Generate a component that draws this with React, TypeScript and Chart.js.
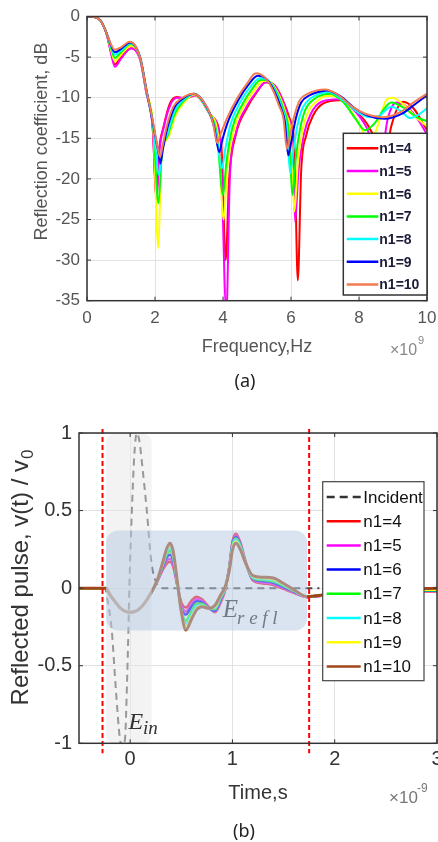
import React, { useEffect, useRef } from "react";
import { Chart, registerables } from "chart.js";
Chart.register(...registerables);

const SANS = '"Liberation Sans", Arial, Helvetica, sans-serif';
const SERIF = '"Liberation Serif", "DejaVu Serif", serif';

// ---------------- (a) Reflection coefficient vs frequency (GHz, dB) ----------------
const freqTicks = [0, 2, 4, 6, 8, 10];
const dbTicks = [0, -5, -10, -15, -20, -25, -30, -35];
const labelsA = ["n1=4", "n1=5", "n1=6", "n1=7", "n1=8", "n1=9", "n1=10"];
const colorsA = ["#ff0000", "#ff00ff", "#ffff00", "#00ff00", "#00ffff", "#0000ff", "#f27b50"];

const fN4 = [0, 0.2, 0.4, 0.58, 0.7, 0.82, 1.0, 1.3, 1.56, 1.74, 1.93, 2.04, 2.12, 2.25, 2.44, 2.64, 2.88, 3.18, 3.67, 3.95, 4.08, 4.18, 4.38, 4.7, 5.0, 5.25, 5.5, 5.75, 5.97, 6.1, 6.2, 6.3, 6.45, 6.65, 6.95, 7.45, 7.85, 8.25, 8.5, 8.7, 8.95, 9.3, 9.6, 10];
const dbN4 = [0, -0.05, -0.5, -2.2, -4.3, -5.9, -5.0, -3.9, -5.2, -9.2, -13.5, -22.3, -16.5, -13.6, -10.7, -9.9, -10.1, -9.7, -12.3, -15.8, -30, -20, -14.5, -11.3, -9.3, -8.1, -8.4, -10.2, -12.7, -16, -32.5, -19, -14.6, -12.2, -10.7, -10.3, -11.5, -13.3, -15.5, -19, -13.5, -10.5, -11.3, -14];

const fN5 = [0, 0.2, 0.4, 0.58, 0.7, 0.82, 1.0, 1.3, 1.56, 1.74, 1.93, 2.05, 2.12, 2.25, 2.45, 2.64, 2.88, 3.18, 3.65, 3.92, 4.1, 4.2, 4.38, 4.68, 5.0, 5.25, 5.47, 5.72, 5.92, 6.05, 6.12, 6.22, 6.38, 6.58, 6.9, 7.4, 7.8, 8.2, 8.45, 8.65, 8.85, 9.1, 9.4, 9.7, 10];
const dbN5 = [0, -0.05, -0.5, -2.2, -4.4, -6.2, -5.2, -3.9, -5.3, -9.3, -13.6, -22.5, -17, -13.8, -10.9, -10.0, -10.1, -9.7, -12.2, -15.5, -36.5, -20, -14.3, -11.2, -9.2, -8.1, -8.3, -10, -12.5, -15.5, -25.3, -19, -14.5, -12, -10.5, -10.2, -11.3, -13.5, -16, -17, -12.5, -10.6, -11.1, -12.5, -14.5];

const fN6 = [0, 0.2, 0.4, 0.58, 0.7, 0.82, 1.0, 1.3, 1.56, 1.75, 1.95, 2.1, 2.18, 2.4, 2.6, 2.85, 3.15, 3.6, 3.86, 4.02, 4.12, 4.32, 4.62, 4.92, 5.18, 5.4, 5.65, 5.85, 6.0, 6.1, 6.2, 6.33, 6.5, 6.8, 7.05, 7.25, 7.65, 8.0, 8.3, 8.55, 8.8, 8.97, 9.3, 9.7, 10];
const dbN6 = [0, -0.05, -0.5, -2.1, -4.0, -5.5, -4.7, -3.6, -5.1, -9.3, -13.8, -28.5, -18, -14.8, -12.2, -10.6, -9.6, -11.9, -14.8, -25, -19, -14, -11, -9.1, -7.9, -8.1, -9.7, -12, -14.8, -24, -18, -14.2, -11.8, -10.3, -9.8, -9.8, -11, -13.2, -15.5, -13.5, -10.3, -10.0, -10.8, -12.5, -13.5];

const fN7 = [0, 0.2, 0.4, 0.58, 0.7, 0.82, 1.0, 1.28, 1.56, 1.75, 1.95, 2.1, 2.2, 2.38, 2.58, 2.82, 3.15, 3.57, 3.82, 4.0, 4.1, 4.27, 4.56, 4.86, 5.12, 5.35, 5.6, 5.8, 5.93, 6.05, 6.14, 6.27, 6.42, 6.7, 6.95, 7.15, 7.55, 7.9, 8.18, 8.45, 8.7, 8.95, 9.3, 9.7, 10];
const dbN7 = [0, -0.05, -0.5, -2.1, -3.8, -5.1, -4.4, -3.4, -5.0, -9.2, -13.6, -23, -17, -14.6, -12, -10.5, -9.5, -11.7, -14.5, -22, -18, -13.8, -10.9, -8.9, -7.8, -8.0, -9.5, -11.7, -14, -22, -17.5, -13.8, -11.5, -10.1, -9.6, -9.5, -10.6, -12.6, -14.0, -13.2, -11.6, -10.6, -11.2, -12.4, -12.9];

const fN8 = [0, 0.2, 0.4, 0.58, 0.7, 0.82, 1.0, 1.27, 1.56, 1.75, 1.95, 2.12, 2.22, 2.36, 2.56, 2.8, 3.15, 3.55, 3.78, 3.97, 4.06, 4.22, 4.5, 4.8, 5.08, 5.3, 5.55, 5.75, 5.87, 5.98, 6.07, 6.2, 6.35, 6.6, 6.85, 7.1, 7.5, 7.9, 8.3, 8.6, 8.95, 9.25, 9.5, 9.75, 10];
const dbN8 = [0, -0.05, -0.5, -2.1, -3.6, -4.7, -4.2, -3.3, -5.0, -9.2, -13.6, -19.5, -16, -14.5, -11.8, -10.4, -9.5, -11.5, -14, -18.7, -16.5, -13.3, -10.6, -8.7, -7.6, -7.8, -9.3, -11.5, -13.5, -19.3, -16.5, -13.2, -11.2, -10.0, -9.5, -9.3, -10.2, -11.6, -12.4, -12.2, -11.1, -11.7, -12.5, -12.1, -11.3];

const fN9 = [0, 0.2, 0.4, 0.58, 0.7, 0.82, 1.0, 1.27, 1.56, 1.76, 1.96, 2.1, 2.16, 2.23, 2.36, 2.56, 2.76, 3.14, 3.54, 3.74, 3.89, 3.98, 4.16, 4.45, 4.75, 5.02, 5.25, 5.5, 5.7, 5.82, 5.92, 6.01, 6.14, 6.3, 6.55, 6.8, 7.05, 7.45, 7.85, 8.25, 8.75, 9.25, 9.65, 10];
const dbN9 = [0, -0.05, -0.5, -2.1, -3.5, -4.4, -4.0, -3.2, -5.0, -9.3, -13.6, -16.8, -18.1, -16.4, -13.8, -11.3, -10.3, -9.5, -11.3, -13.6, -16.7, -15.2, -12.8, -10.3, -8.4, -7.3, -7.6, -9.1, -11.2, -13, -17.1, -15.4, -12.6, -10.6, -9.7, -9.3, -9.1, -9.8, -11.2, -12.2, -12.6, -12.0, -10.8, -9.7];

const fN10 = [0, 0.2, 0.4, 0.58, 0.7, 0.82, 1.0, 1.26, 1.56, 1.75, 1.95, 2.08, 2.15, 2.22, 2.34, 2.54, 2.74, 3.13, 3.52, 3.71, 3.83, 3.92, 4.11, 4.4, 4.7, 4.97, 5.2, 5.45, 5.65, 5.78, 5.88, 5.97, 6.1, 6.26, 6.5, 6.76, 7.0, 7.4, 7.8, 8.2, 8.7, 9.2, 9.6, 10];
const dbN10 = [0, -0.05, -0.5, -2.1, -3.4, -4.1, -3.8, -3.1, -5.0, -9.1, -13.2, -16.2, -17.3, -16, -13.6, -11.1, -10.2, -9.5, -11.1, -13.2, -15.6, -14.6, -12.6, -10.2, -8.3, -7.0, -7.4, -8.9, -11, -12.6, -16.3, -14.6, -12.2, -10.3, -9.5, -9.1, -9.0, -9.7, -11.1, -12.0, -12.4, -11.8, -10.6, -9.5];

// ---------------- (b) Reflected pulse vs time (ns, v/v0) ----------------
const timeTicks = [0, 1, 2, 3];
const pulseTicks = [-1, -0.5, 0, 0.5, 1];
const markerTimes = [-0.27, 1.75];

const incidentT = [-0.5, -0.24, -0.22, -0.18, -0.14, -0.1, -0.075, -0.05, -0.03, -0.017, -0.008, 0.017, 0.04, 0.065, 0.09, 0.12, 0.163, 0.205, 0.24, 0.27, 0.32, 1.85];
const incidentV = [0, 0, -0.08, -0.27, -0.65, -0.97, -1.02, -0.97, -0.6, -0.27, 0, 0.5, 0.85, 1.0, 0.95, 0.78, 0.5, 0.18, 0.06, 0.02, 0, 0];

const labelsB = ["n1=4", "n1=5", "n1=6", "n1=7", "n1=8", "n1=9", "n1=10"];
const colorsB = ["#ff0000", "#ff00ff", "#0000ff", "#00ff00", "#00ffff", "#ffff00", "#a0441a"];

const headT = [-0.5, -0.27, -0.235, -0.2, -0.15, -0.1, -0.05, 0.0, 0.05, 0.1, 0.15, 0.2, 0.23];
const headV = [0, 0, 0, -0.04, -0.085, -0.125, -0.148, -0.155, -0.15, -0.128, -0.088, -0.035, 0.0];
const tailT = [0.27, 0.32, 0.36, 0.39, 0.42, 0.46, 0.5, 0.545, 0.6, 0.65, 0.7, 0.77, 0.83, 0.88, 0.93, 0.97, 1.0, 1.035, 1.08, 1.13, 1.2, 1.3, 1.4, 1.5, 1.6, 1.73, 1.8, 1.95, 2.5, 3.0];
const tailN4 = [0.05, 0.12, 0.16, 0.17, 0.14, 0.02, -0.09, -0.125, -0.08, -0.055, -0.07, -0.12, -0.155, -0.10, -0.01, 0.14, 0.30, 0.35, 0.29, 0.17, 0.05, 0.03, 0.02, -0.005, -0.03, -0.058, -0.052, -0.045, -0.02, -0.02];
const tailN5 = [0.05, 0.13, 0.18, 0.19, 0.16, 0.025, -0.11, -0.15, -0.1, -0.07, -0.08, -0.125, -0.15, -0.09, -0.005, 0.14, 0.29, 0.34, 0.28, 0.165, 0.055, 0.037, 0.027, 0.0, -0.027, -0.057, -0.052, -0.045, -0.02, -0.018];
const tailN6 = [0.055, 0.14, 0.20, 0.215, 0.18, 0.03, -0.13, -0.17, -0.12, -0.085, -0.09, -0.13, -0.145, -0.08, 0.0, 0.135, 0.285, 0.33, 0.275, 0.16, 0.06, 0.045, 0.035, 0.007, -0.022, -0.056, -0.051, -0.044, -0.018, -0.016];
const tailN7 = [0.055, 0.15, 0.22, 0.24, 0.20, 0.035, -0.14, -0.21, -0.15, -0.1, -0.1, -0.13, -0.135, -0.07, 0.0, 0.13, 0.275, 0.32, 0.27, 0.16, 0.065, 0.052, 0.042, 0.015, -0.018, -0.056, -0.051, -0.044, -0.017, -0.014];
const tailN8 = [0.06, 0.16, 0.235, 0.26, 0.215, 0.04, -0.145, -0.23, -0.17, -0.115, -0.11, -0.13, -0.125, -0.06, 0.005, 0.125, 0.265, 0.31, 0.26, 0.16, 0.07, 0.058, 0.05, 0.02, -0.014, -0.055, -0.05, -0.043, -0.016, -0.012];
const tailN9 = [0.06, 0.165, 0.25, 0.275, 0.23, 0.045, -0.15, -0.25, -0.185, -0.13, -0.115, -0.13, -0.12, -0.055, 0.005, 0.12, 0.255, 0.30, 0.25, 0.16, 0.075, 0.064, 0.057, 0.025, -0.012, -0.055, -0.05, -0.042, -0.015, -0.01];
const tailN10 = [0.06, 0.17, 0.26, 0.29, 0.24, 0.05, -0.15, -0.27, -0.2, -0.14, -0.12, -0.13, -0.11, -0.05, 0.01, 0.115, 0.245, 0.29, 0.245, 0.16, 0.08, 0.07, 0.065, 0.03, -0.01, -0.055, -0.05, -0.04, -0.01, 0.0];

// shaded regions (data coords)
const inWindow = [-0.235, 0.21];
const reflWindowT = [-0.235, 1.73];
const reflWindowV = [-0.273, 0.372];

function roundRectPath(ctx: CanvasRenderingContext2D, x: number, y: number, w: number, h: number, r: number) {
  ctx.beginPath();
  ctx.moveTo(x + r, y);
  ctx.lineTo(x + w - r, y);
  ctx.arcTo(x + w, y, x + w, y + r, r);
  ctx.lineTo(x + w, y + h - r);
  ctx.arcTo(x + w, y + h, x + w - r, y + h, r);
  ctx.lineTo(x + r, y + h);
  ctx.arcTo(x, y + h, x, y + h - r, r);
  ctx.lineTo(x, y + r);
  ctx.arcTo(x, y, x + r, y, r);
  ctx.closePath();
}

function drawBox(ctx: CanvasRenderingContext2D, a: any, xs: number[], ys: number[], color: string) {
  ctx.save();
  ctx.strokeStyle = color;
  ctx.lineWidth = 1.5;
  ctx.strokeRect(a.left, a.top, a.right - a.left, a.bottom - a.top);
  ctx.lineWidth = 1;
  ctx.beginPath();
  for (const px of xs) {
    ctx.moveTo(px, a.bottom); ctx.lineTo(px, a.bottom - 4);
    ctx.moveTo(px, a.top); ctx.lineTo(px, a.top + 4);
  }
  for (const py of ys) {
    ctx.moveTo(a.left, py); ctx.lineTo(a.left + 4, py);
    ctx.moveTo(a.right, py); ctx.lineTo(a.right - 4, py);
  }
  ctx.stroke();
  ctx.restore();
}

function xy(xs: number[], ys: number[]) {
  return xs.map((x, i) => ({ x, y: ys[i] }));
}

export default function App() {
  const refA = useRef<HTMLCanvasElement>(null);
  const refB = useRef<HTMLCanvasElement>(null);

  useEffect(() => {
    const seriesA = [
      xy(fN4, dbN4), xy(fN5, dbN5), xy(fN6, dbN6), xy(fN7, dbN7),
      xy(fN8, dbN8), xy(fN9, dbN9), xy(fN10, dbN10),
    ];
    const datasetsA = seriesA.map((d, i) => ({
      label: labelsA[i],
      data: d,
      borderColor: colorsA[i],
      backgroundColor: colorsA[i],
      borderWidth: 2,
      pointRadius: 0,
      fill: false,
      cubicInterpolationMode: "monotone" as const,
      order: 6 - i,
    }));

    const decorA = {
      id: "decorA",
      afterDraw(chart: any) {
        const { ctx, chartArea: a, scales } = chart;
        const xs = freqTicks.map((v) => scales.x.getPixelForValue(v));
        const ys = dbTicks.map((v) => scales.y.getPixelForValue(v));
        drawBox(ctx, a, xs, ys, "#333");
        ctx.save();
        ctx.fillStyle = "#555";
        ctx.font = `18px ${SANS}`;
        ctx.textAlign = "center";
        ctx.textBaseline = "middle";
        ctx.fillText("Frequency,Hz", (a.left + a.right) / 2, 346.7);
        ctx.save();
        ctx.translate(42.5, 141.5);
        ctx.rotate(-Math.PI / 2);
        ctx.fillText("Reflection coefficient, dB", 0, 0);
        ctx.restore();
        // exponent
        ctx.fillStyle = "#888";
        ctx.textAlign = "left";
        ctx.font = `16px ${SANS}`;
        ctx.fillText("×10", 390, 351);
        ctx.font = `11px ${SANS}`;
        ctx.fillText("9", 418, 341);
        // legend
        const lx = 343.3, ly = 133.3, lw = a.right - 343.3, lh = 161.7;
        ctx.fillStyle = "#fff";
        ctx.fillRect(lx, ly, lw, lh);
        ctx.strokeStyle = "#333";
        ctx.lineWidth = 1.5;
        ctx.strokeRect(lx, ly, lw, lh);
        ctx.font = `bold 14px ${SANS}`;
        labelsA.forEach((lab, i) => {
          const yy = 148.3 + i * 22.7;
          ctx.strokeStyle = colorsA[i];
          ctx.lineWidth = 2.5;
          ctx.beginPath();
          ctx.moveTo(346.7, yy);
          ctx.lineTo(378.3, yy);
          ctx.stroke();
          ctx.fillStyle = "#1c1c3a";
          ctx.fillText(lab, 379.3, yy + 1);
        });
        ctx.restore();
      },
    };

    const chartA = new Chart(refA.current!, {
      type: "line",
      data: { datasets: datasetsA as any },
      options: {
        animation: false,
        responsive: false,
        devicePixelRatio: 1,
        layout: { padding: { left: 0, right: 11, top: 16.5, bottom: 39.3 } },
        plugins: { legend: { display: false }, tooltip: { enabled: false } },
        scales: {
          x: {
            type: "linear",
            min: 0,
            max: 10,
            afterBuildTicks: (s: any) => { s.ticks = freqTicks.map((v) => ({ value: v })); },
            afterFit: (s: any) => { s.height = 30; s.paddingLeft = 0; s.paddingRight = 0; },
            ticks: { color: "#555", font: { family: SANS, size: 17 }, padding: 7, maxRotation: 0, autoSkip: false, callback: (v: any) => String(v) },
            grid: { color: "#e2e2e2", drawTicks: false },
            border: { display: false },
          },
          y: {
            type: "linear",
            min: -35,
            max: 0,
            afterBuildTicks: (s: any) => { s.ticks = dbTicks.map((v) => ({ value: v })); },
            afterFit: (s: any) => { s.width = 87; s.paddingTop = 0; s.paddingBottom = 0; },
            ticks: { color: "#555", font: { family: SANS, size: 17 }, padding: 7, autoSkip: false, callback: (v: any) => String(v) },
            grid: { color: "#e2e2e2", drawTicks: false },
            border: { display: false },
          },
        },
      } as any,
      plugins: [decorA],
    });

    // ---------- chart B ----------
    const tails = [tailN4, tailN5, tailN6, tailN7, tailN8, tailN9, tailN10];
    const datasetsB: any[] = [
      {
        label: "Incident",
        data: xy(incidentT, incidentV),
        borderColor: "#484848",
        borderWidth: 2,
        borderDash: [7, 5],
        pointRadius: 0,
        fill: false,
        cubicInterpolationMode: "monotone",
        order: 20,
      },
      ...tails.map((tail, i) => ({
        label: labelsB[i],
        data: xy([...headT, ...tailT], [...headV, ...tail]),
        borderColor: colorsB[i],
        borderWidth: i === 6 ? 3 : 2.5,
        pointRadius: 0,
        fill: false,
        cubicInterpolationMode: "monotone",
        order: 6 - i,
      })),
    ];

    const overlayB = {
      id: "overlayB",
      afterDatasetsDraw(chart: any) {
        const { ctx, chartArea: a, scales } = chart;
        const X = (v: number) => scales.x.getPixelForValue(v);
        const Y = (v: number) => scales.y.getPixelForValue(v);
        ctx.save();
        // incident-energy window (gray)
        ctx.fillStyle = "rgba(231,231,231,0.5)";
        const gx0 = X(inWindow[0]), gx1 = X(inWindow[1]);
        roundRectPath(ctx, gx0, a.top + 1, gx1 - gx0, a.bottom - a.top - 1, 8);
        ctx.fill();
        // reflected-energy window (blue)
        ctx.fillStyle = "rgba(183,204,226,0.52)";
        const bx0 = X(reflWindowT[0]), bx1 = X(reflWindowT[1]);
        const by0 = Y(reflWindowV[1]), by1 = Y(reflWindowV[0]);
        roundRectPath(ctx, bx0, by0, bx1 - bx0, by1 - by0, 12);
        ctx.fill();
        // labels
        ctx.textBaseline = "alphabetic";
        ctx.textAlign = "left";
        ctx.fillStyle = "#6f7b87";
        ctx.font = `italic 25px ${SERIF}`;
        const ex = X(0.905), ey = Y(-0.189);
        ctx.fillText("E", ex, ey);
        const ew = ctx.measureText("E").width;
        ctx.font = `italic 19px ${SERIF}`;
        ctx.fillText("r e f l", ex + ew - 1, ey + 7);
        ctx.fillStyle = "#333";
        ctx.font = `italic 24px ${SERIF}`;
        const ix = X(-0.017), iy = Y(-0.905);
        ctx.fillText("E", ix, iy);
        const iw = ctx.measureText("E").width;
        ctx.font = `italic 19px ${SERIF}`;
        ctx.fillText("in", ix + iw, iy + 5);
        // red window markers
        ctx.strokeStyle = "#ff0000";
        ctx.lineWidth = 2;
        ctx.setLineDash([5, 3]);
        for (const t of markerTimes) {
          const px = X(t);
          ctx.beginPath();
          ctx.moveTo(px, a.top - 4);
          ctx.lineTo(px, a.bottom + 10);
          ctx.stroke();
        }
        ctx.restore();
      },
      afterDraw(chart: any) {
        const { ctx, chartArea: a, scales } = chart;
        const xs = timeTicks.map((v) => scales.x.getPixelForValue(v));
        const ys = pulseTicks.map((v) => scales.y.getPixelForValue(v));
        drawBox(ctx, a, xs, ys, "#333");
        ctx.save();
        ctx.fillStyle = "#333";
        ctx.textAlign = "center";
        ctx.textBaseline = "middle";
        ctx.font = `20px ${SANS}`;
        ctx.fillText("Time,s", (a.left + a.right) / 2, 373.3);
        // y title with subscript
        ctx.save();
        ctx.translate(21.7, 158);
        ctx.rotate(-Math.PI / 2);
        ctx.font = `24px ${SANS}`;
        const main = "Reflected pulse, v(t) / v";
        const w1 = ctx.measureText(main).width;
        ctx.font = `17px ${SANS}`;
        const w2 = ctx.measureText("0").width;
        const start = -(w1 + w2) / 2;
        ctx.textAlign = "left";
        ctx.font = `24px ${SANS}`;
        ctx.fillText(main, start, 0);
        ctx.font = `17px ${SANS}`;
        ctx.fillText("0", start + w1 + 1, 7);
        ctx.restore();
        // exponent
        ctx.fillStyle = "#777";
        ctx.textAlign = "left";
        ctx.font = `17px ${SANS}`;
        ctx.fillText("×10", 389, 378);
        ctx.font = `12px ${SANS}`;
        ctx.fillText("-9", 417, 369);
        // legend
        const lx = 322.7, ly = 61.7, lw = 101.3, lh = 199;
        ctx.fillStyle = "#fff";
        ctx.fillRect(lx, ly, lw, lh);
        ctx.strokeStyle = "#444";
        ctx.lineWidth = 1.2;
        ctx.strokeRect(lx, ly, lw, lh);
        ctx.font = `17px ${SANS}`;
        const entries = ["Incident", ...labelsB];
        entries.forEach((lab, i) => {
          const yy = 77 + i * 24.2;
          ctx.save();
          if (i === 0) {
            ctx.strokeStyle = "#333";
            ctx.lineWidth = 2.5;
            ctx.setLineDash([8, 5]);
          } else {
            ctx.strokeStyle = colorsB[i - 1];
            ctx.lineWidth = 2.5;
          }
          ctx.beginPath();
          ctx.moveTo(326.7, yy);
          ctx.lineTo(360.7, yy);
          ctx.stroke();
          ctx.restore();
          ctx.fillStyle = "#111";
          ctx.fillText(lab, 363.3, yy + 1);
        });
        ctx.restore();
      },
    };

    const chartB = new Chart(refB.current!, {
      type: "line",
      data: { datasets: datasetsB },
      options: {
        animation: false,
        responsive: false,
        devicePixelRatio: 1,
        layout: { padding: { left: 0, right: 1, top: 13, bottom: 46.7 } },
        plugins: { legend: { display: false }, tooltip: { enabled: false } },
        scales: {
          x: {
            type: "linear",
            min: -0.5,
            max: 3,
            afterBuildTicks: (s: any) => { s.ticks = timeTicks.map((v) => ({ value: v })); },
            afterFit: (s: any) => { s.height = 30; s.paddingLeft = 0; s.paddingRight = 0; },
            ticks: { color: "#333", font: { family: SANS, size: 20 }, padding: 4, maxRotation: 0, autoSkip: false, callback: (v: any) => String(v) },
            grid: { color: "#e2e2e2", drawTicks: false },
            border: { display: false },
          },
          y: {
            type: "linear",
            min: -1,
            max: 1,
            afterBuildTicks: (s: any) => { s.ticks = pulseTicks.map((v) => ({ value: v })); },
            afterFit: (s: any) => { s.width = 79; s.paddingTop = 0; s.paddingBottom = 0; },
            ticks: { color: "#333", font: { family: SANS, size: 20 }, padding: 7, autoSkip: false, callback: (v: any) => String(v) },
            grid: { color: "#e2e2e2", drawTicks: false },
            border: { display: false },
          },
        },
      } as any,
      plugins: [overlayB],
    });

    return () => {
      chartA.destroy();
      chartB.destroy();
    };
  }, []);

  const capStyle: React.CSSProperties = {
    position: "absolute",
    width: 60,
    textAlign: "center",
    fontFamily: '"Noto Sans", sans-serif',
    fontSize: 18,
    lineHeight: "20px",
    color: "#222",
  };

  return (
    <div style={{ position: "absolute", left: 0, top: 0, width: 438, height: 842, background: "#fff", overflow: "hidden" }}>
      <canvas ref={refA} width={438} height={370} style={{ position: "absolute", left: 0, top: 0, width: 438, height: 370 }} />
      <div style={{ ...capStyle, left: 215, top: 370 }}>(a)</div>
      <canvas ref={refB} width={438} height={400} style={{ position: "absolute", left: 0, top: 420, width: 438, height: 400 }} />
      <div style={{ ...capStyle, left: 214, top: 820 }}>(b)</div>
    </div>
  );
}
